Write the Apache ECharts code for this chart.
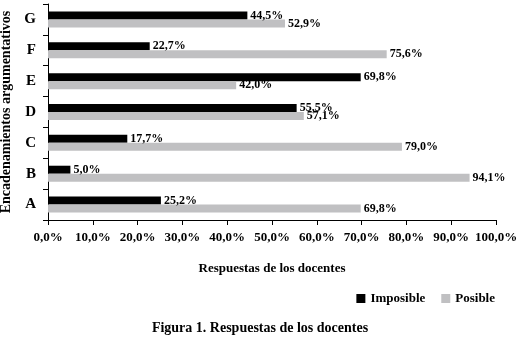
<!DOCTYPE html>
<html>
<head>
<meta charset="utf-8">
<script src="https://cdn.jsdelivr.net/npm/echarts@6/dist/echarts.min.js"></script>
<style>
  html, body { margin: 0; padding: 0; background: #fff; }
  #chart { width: 520px; height: 343px; }
</style>
</head>
<body>
<div id="chart"></div>
<script>
// datos
const categorias = ["A", "B", "C", "D", "E", "F", "G"];
const imposible = [25.2, 5.0, 17.7, 55.5, 69.8, 22.7, 44.5];
const posible = [69.8, 94.1, 79.0, 57.1, 42.0, 75.6, 52.9];

const fuente = "Liberation Serif";
const fmt = v => v.toFixed(1).replace(".", ",") + "%";

let chart = echarts.init(document.getElementById("chart"));
let option = {
  animation: false,
  textStyle: { fontFamily: fuente, color: "#000" },
  title: {
    text: "Figura 1. Respuestas de los docentes",
    left: "center",
    top: 316,
    textStyle: { fontFamily: fuente, fontSize: 14, fontWeight: "bold", color: "#000" }
  },
  legend: {
    data: ["Imposible", "Posible"],
    right: 20,
    top: 287,
    itemWidth: 9,
    itemHeight: 9,
    itemGap: 16,
    icon: "rect",
    textStyle: { fontFamily: fuente, fontSize: 13, fontWeight: "bold", color: "#000" }
  },
  grid: { left: 48, right: 24, top: 4, bottom: 123, outerBoundsMode: "none" },
  xAxis: {
    type: "value",
    min: 0,
    max: 100,
    interval: 10,
    name: "Respuestas de los docentes",
    nameLocation: "middle",
    nameGap: 42,
    nameTextStyle: { fontFamily: fuente, fontSize: 13, fontWeight: "bold", color: "#000" },
    axisLine: { show: true, lineStyle: { color: "#000", width: 1 } },
    axisTick: { show: true, length: 5, lineStyle: { color: "#000" } },
    splitLine: { show: false },
    axisLabel: {
      formatter: fmt,
      fontFamily: fuente,
      fontSize: 13,
      fontWeight: "bold",
      color: "#000",
      margin: 11
    }
  },
  yAxis: {
    type: "category",
    data: categorias,
    name: "Encadenamientos argumentativos",
    nameLocation: "middle",
    nameGap: 32,
    nameTextStyle: { fontFamily: fuente, fontSize: 14, fontWeight: "bold", color: "#000" },
    axisLine: { show: true, lineStyle: { color: "#000", width: 1 } },
    axisTick: { show: true, length: 5, lineStyle: { color: "#000" } },
    axisLabel: { fontFamily: fuente, fontSize: 15, fontWeight: "bold", color: "#000", margin: 12 }
  },
  series: [
    {
      name: "Imposible",
      type: "bar",
      data: imposible,
      barWidth: 8,
      barGap: "0%",
      itemStyle: { color: "#000" },
      label: {
        show: true,
        position: "right",
        distance: 3,
        formatter: p => fmt(p.value),
        fontFamily: fuente,
        fontSize: 12,
        fontWeight: "bold",
        color: "#000"
      }
    },
    {
      name: "Posible",
      type: "bar",
      data: posible,
      barWidth: 8,
      barGap: "0%",
      itemStyle: { color: "#c0c0c2" },
      label: {
        show: true,
        position: "right",
        distance: 3,
        formatter: p => fmt(p.value),
        fontFamily: fuente,
        fontSize: 12,
        fontWeight: "bold",
        color: "#000"
      }
    }
  ]
};
chart.setOption(option);
</script>
</body>
</html>
